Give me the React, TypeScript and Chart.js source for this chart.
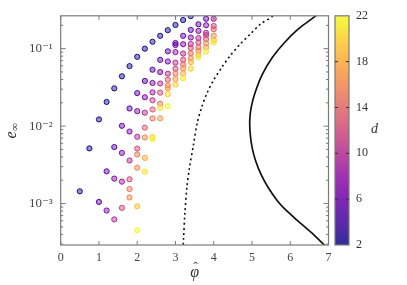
import React, { useEffect, useRef } from 'react';
import { Chart, registerables } from 'chart.js';

Chart.register(...registerables);

// ---- axes / ticks ----
const xTickValues = [0, 1, 2, 3, 4, 5, 6, 7];
const yMajorValues = [1e-3, 1e-2, 1e-1];
const yMajorLabels = ['10⁻³', '10⁻²', '10⁻¹'];
const dTickValues = [2, 6, 10, 14, 18, 22];
const xRange = [0, 7];
const yRange = [2.92e-4, 0.2655];
const dRange = [2, 22];

// ---- scatter points: phi-hat, e_inf, d ----
const pointPhi = [
  0.5, 0.75,
  1.0, 1.0,
  1.2, 1.2, 1.2,
  1.4, 1.4, 1.4, 1.4,
  1.6, 1.6, 1.6, 1.6, 1.6,
  1.8, 1.8, 1.8, 1.8, 1.8, 1.8, 1.8,
  2.0, 2.0, 2.0, 2.0, 2.0, 2.0, 2.0, 2.0, 2.0,
  2.2, 2.2, 2.2, 2.2, 2.2, 2.2, 2.2, 2.2,
  2.4, 2.4, 2.4, 2.4, 2.4, 2.4, 2.4, 2.4, 2.4,
  2.6, 2.6, 2.6, 2.6, 2.6, 2.6, 2.6, 2.6,
  2.8, 2.8, 2.8, 2.8, 2.8, 2.8, 2.8, 2.8, 2.8,
  3.0, 3.0, 3.0, 3.0, 3.0, 3.0, 3.0, 3.0, 3.0,
  3.2, 3.2, 3.2, 3.2, 3.2, 3.2, 3.2, 3.2, 3.2,
  3.4, 3.4, 3.4, 3.4, 3.4, 3.4, 3.4, 3.4, 3.4,
  3.6, 3.6, 3.6, 3.6, 3.6, 3.6, 3.6, 3.6,
  3.8, 3.8, 3.8, 3.8, 3.8, 3.8, 3.8, 3.8,
  4.0, 4.0, 4.0, 4.0, 4.0, 4.0,
];
const pointE = [
  0.00144, 0.00516,
  0.0122, 0.00105,
  0.0205, 0.00261, 0.000814,
  0.0307, 0.00537, 0.0021, 0.000625,
  0.044, 0.0101, 0.00451, 0.00192, 0.000881,
  0.0595, 0.0169, 0.00851, 0.0036, 0.00206, 0.00154, 0.0012,
  0.0784, 0.0267, 0.0156, 0.00728, 0.00513, 0.0043, 0.0029, 0.000924, 0.000453,
  0.1, 0.0383, 0.0236, 0.0149, 0.00957, 0.00714, 0.00389, 0.00258,
  0.1228, 0.0535, 0.0361, 0.0273, 0.0216, 0.0164, 0.0126, 0.0072, 0.0068,
  0.1465, 0.0718, 0.0499, 0.0355, 0.0271, 0.0195, 0.0172, 0.0126,
  0.173, 0.0924, 0.0683, 0.0476, 0.0397, 0.0335, 0.0309, 0.0259, 0.0181,
  0.2023, 0.1182, 0.1114, 0.0902, 0.066, 0.0551, 0.0476, 0.0406, 0.0343,
  0.234, 0.1465, 0.1141, 0.0864, 0.0718, 0.0625, 0.0556, 0.048, 0.0415,
  0.263, 0.1746, 0.1393, 0.1148, 0.1021, 0.0871, 0.0752, 0.0669, 0.0551,
  0.2064, 0.1694, 0.1368, 0.1203, 0.1039, 0.0943, 0.0831, 0.0775,
  0.2432, 0.2005, 0.16, 0.1494, 0.133, 0.1168, 0.1039, 0.0916,
  0.2432, 0.1963, 0.1783, 0.147, 0.1292, 0.1203,
];
const pointD = [
  2, 2,
  2, 5,
  2, 5, 7,
  2, 5, 7, 10,
  2, 5, 7, 9, 12,
  2, 5, 7, 10, 12, 15, 16,
  2, 5, 7, 10, 12, 15, 16, 19, 22,
  2, 5, 7, 10, 13, 16, 18, 21,
  2, 5, 7, 9, 11, 13, 15, 20, 22,
  2, 5, 7, 10, 12, 15, 21, 17,
  2, 5, 7, 10, 13, 16, 17, 20, 22,
  2, 5, 6, 8, 10, 12, 15, 17, 20,
  2, 5, 7, 10, 12, 14, 16, 18, 21,
  2, 5, 7, 10, 12, 14, 16, 18, 20,
  5, 7, 10, 12, 14, 16, 19, 21,
  5, 7, 10, 11, 13, 16, 17, 21,
  9, 12, 13, 16, 19, 21,
];

// ---- dotted boundary curve ----
const dottedPhi = [5.584, 5.54, 5.217, 4.955, 4.694, 4.432, 4.215, 3.995, 3.822, 3.691, 3.568, 3.471, 3.366, 3.298, 3.246, 3.209, 3.196];
const dottedE = [0.305, 0.263, 0.2064, 0.154, 0.1148, 0.0814, 0.0578, 0.0391, 0.0265, 0.0179, 0.011, 0.00576, 0.0029, 0.00161, 0.000739, 0.000338, 0.00025];

// ---- solid boundary curve ----
const solidPhi = [6.76, 6.657, 6.212, 5.846, 5.531, 5.27, 5.086, 4.982, 4.942, 4.955, 5.008, 5.099, 5.243, 5.427, 5.662, 5.924, 6.212, 6.539, 6.866, 7.02];
const solidE = [0.296, 0.263, 0.1798, 0.1192, 0.0768, 0.0467, 0.0275, 0.0177, 0.0121, 0.0078, 0.00517, 0.00353, 0.00234, 0.0016, 0.00109, 0.000791, 0.00059, 0.000427, 0.0003, 0.000252];

// plasma colormap anchors
const plasmaStops = ['#0d0887', '#41049d', '#6a00a8', '#8f0da4', '#b12a90', '#cc4778', '#e16462', '#f2844b', '#fca636', '#fcce25', '#f0f921'];

const SERIF = '"Liberation Serif", "DejaVu Serif", serif';

function hexToRgb(h: string): number[] {
  return [parseInt(h.slice(1, 3), 16), parseInt(h.slice(3, 5), 16), parseInt(h.slice(5, 7), 16)];
}
function plasma(t: number): number[] {
  const tt = Math.max(0, Math.min(1, t)) * (plasmaStops.length - 1);
  const i = Math.min(Math.floor(tt), plasmaStops.length - 2);
  const f = tt - i;
  const a = hexToRgb(plasmaStops[i]);
  const b = hexToRgb(plasmaStops[i + 1]);
  return [0, 1, 2].map((k) => Math.round(a[k] + (b[k] - a[k]) * f));
}
function dColor(d: number, alpha: number): string {
  const c = plasma((d - dRange[0]) / (dRange[1] - dRange[0]));
  return `rgba(${c[0]},${c[1]},${c[2]},${alpha})`;
}

const framePlugin = {
  id: 'frameAndColorbar',
  afterDraw(chart: any) {
    const { ctx, chartArea } = chart;
    const { left, right, top, bottom } = chartArea;
    const xs = chart.scales.x;
    const ys = chart.scales.y;
    ctx.save();
    const axisColor = '#7a7a7a';
    ctx.strokeStyle = axisColor;
    ctx.lineWidth = 1.2;
    ctx.strokeRect(left, top, right - left, bottom - top);
    ctx.lineWidth = 1;
    xTickValues.forEach((v) => {
      const px = xs.getPixelForValue(v);
      ctx.beginPath();
      ctx.moveTo(px, bottom);
      ctx.lineTo(px, bottom - 4);
      ctx.moveTo(px, top);
      ctx.lineTo(px, top + 4);
      ctx.stroke();
    });
    for (let k = -4; k <= 0; k++) {
      for (let m = 1; m <= 9; m++) {
        const v = m * Math.pow(10, k);
        if (v < yRange[0] || v > yRange[1]) continue;
        const py = ys.getPixelForValue(v);
        const len = m === 1 ? 5 : 2.5;
        ctx.beginPath();
        ctx.moveTo(left, py);
        ctx.lineTo(left + len, py);
        ctx.moveTo(right, py);
        ctx.lineTo(right - len, py);
        ctx.stroke();
      }
    }
    // colorbar
    const cbL = right + 6.5;
    const cbR = right + 20.5;
    const dToPx = (d: number) => bottom - ((d - dRange[0]) / (dRange[1] - dRange[0])) * (bottom - top);
    const grad = ctx.createLinearGradient(0, bottom, 0, top);
    for (let i = 0; i <= 20; i++) {
      const c = plasma(i / 20);
      grad.addColorStop(i / 20, `rgba(${c[0]},${c[1]},${c[2]},0.85)`);
    }
    ctx.fillStyle = grad;
    ctx.fillRect(cbL, top, cbR - cbL, bottom - top);
    ctx.strokeStyle = axisColor;
    ctx.lineWidth = 1.2;
    ctx.strokeRect(cbL, top, cbR - cbL, bottom - top);
    ctx.strokeStyle = '#333';
    ctx.lineWidth = 1;
    ctx.fillStyle = '#333';
    ctx.font = `12px ${SERIF}`;
    ctx.textAlign = 'left';
    ctx.textBaseline = 'middle';
    dTickValues.forEach((v) => {
      const py = dToPx(v);
      if (v !== dRange[0] && v !== dRange[1]) {
        ctx.beginPath();
        ctx.moveTo(cbL, py);
        ctx.lineTo(cbL + 3, py);
        ctx.moveTo(cbR, py);
        ctx.lineTo(cbR - 3, py);
        ctx.stroke();
      }
      ctx.fillText(String(v), cbR + 7, py);
    });
    ctx.font = `italic 14px ${SERIF}`;
    ctx.fillText('d', cbR + 22, (top + bottom) / 2 - 1);
    // x title: hat varphi
    ctx.textAlign = 'center';
    ctx.textBaseline = 'alphabetic';
    const cx = (left + right) / 2;
    ctx.font = `italic 16px ${SERIF}`;
    ctx.fillText('φ', cx, 277);
    ctx.font = `14px ${SERIF}`;
    ctx.fillText('ˆ', cx + 1, 272);
    // y title: e_inf, rotated
    ctx.translate(15.5, 138.5);
    ctx.rotate(-Math.PI / 2);
    ctx.textAlign = 'left';
    ctx.font = `italic 16px ${SERIF}`;
    ctx.fillText('e', 0, 0);
    const w = ctx.measureText('e').width;
    ctx.font = `11px ${SERIF}`;
    ctx.fillText('∞', w + 0.5, 2.5);
    ctx.restore();
  },
};

export default function App() {
  const ref = useRef<HTMLCanvasElement | null>(null);
  useEffect(() => {
    if (!ref.current) return;
    const pts = pointPhi.map((p, i) => ({ x: p, y: pointE[i] }));
    const chart = new Chart(ref.current, {
      type: 'scatter',
      data: {
        datasets: [
          {
            data: pts,
            pointRadius: 2.6,
            pointBorderWidth: 1,
            pointBackgroundColor: pointD.map((d) => dColor(d, 0.45)),
            pointBorderColor: pointD.map((d) => dColor(d, 0.95)),
            showLine: false,
            order: 1,
          },
          {
            data: dottedPhi.map((p, i) => ({ x: p, y: dottedE[i] })),
            showLine: true,
            borderColor: '#111',
            borderWidth: 1.6,
            borderDash: [2, 3],
            pointRadius: 0,
            fill: false,
            tension: 0.3,
            order: 2,
          },
          {
            data: solidPhi.map((p, i) => ({ x: p, y: solidE[i] })),
            showLine: true,
            borderColor: '#111',
            borderWidth: 1.7,
            pointRadius: 0,
            fill: false,
            tension: 0.3,
            order: 3,
          },
        ],
      },
      options: {
        animation: false,
        responsive: false,
        devicePixelRatio: 1,
        layout: { padding: { top: 12.7, right: 78.5, left: 0, bottom: 0 } },
        plugins: { legend: { display: false }, tooltip: { enabled: false } },
        scales: {
          x: {
            type: 'linear',
            min: xRange[0],
            max: xRange[1],
            afterBuildTicks: (s: any) => {
              s.ticks = xTickValues.map((v) => ({ value: v }));
            },
            afterFit: (s: any) => {
              s.height = 40;
            },
            ticks: {
              autoSkip: false,
              maxRotation: 0,
              padding: 6,
              color: '#444',
              font: { family: SERIF, size: 12 },
            },
            grid: { display: false, drawTicks: false },
            border: { display: false },
          },
          y: {
            type: 'logarithmic',
            min: yRange[0],
            max: yRange[1],
            afterBuildTicks: (s: any) => {
              s.ticks = yMajorValues.map((v) => ({ value: v }));
            },
            afterFit: (s: any) => {
              s.width = 60.7;
            },
            ticks: {
              autoSkip: false,
              padding: 8,
              color: '#444',
              font: { family: SERIF, size: 13 },
              callback: (_v: any, i: number) => yMajorLabels[i],
            },
            grid: { display: false, drawTicks: false },
            border: { display: false },
          },
        },
      },
      plugins: [framePlugin],
    } as any);
    return () => chart.destroy();
  }, []);
  return (
    <div style={{ position: 'fixed', left: 0, top: 0, width: 407, height: 285, background: '#fff' }}>
      <canvas ref={ref} width={407} height={285} style={{ display: 'block' }} />
    </div>
  );
}
